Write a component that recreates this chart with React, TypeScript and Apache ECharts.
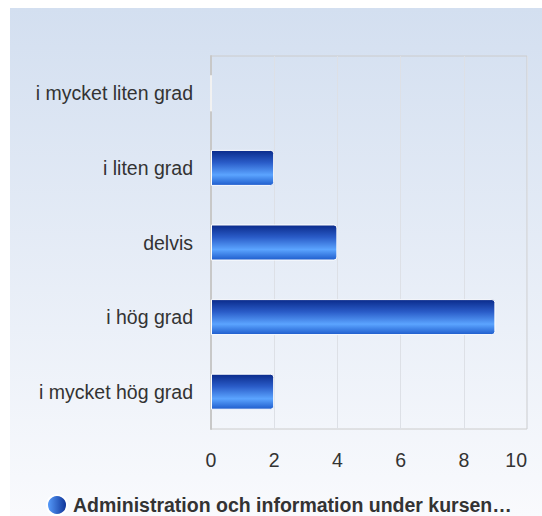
import React, { useEffect, useRef } from "react";
import * as echarts from "echarts";

const categories = ["i mycket liten grad", "i liten grad", "delvis", "i hög grad", "i mycket hög grad"];
const values = [0, 2, 4, 9, 2];
const seriesName = "Administration och information under kursen…";
const xTicks = [0, 2, 4, 6, 8, 10];

export default function App() {
  const ref = useRef<HTMLDivElement>(null);
  useEffect(() => {
    if (!ref.current) return;
    const chart = echarts.init(ref.current, undefined, { renderer: "svg" });
    const font = "'Liberation Sans', Arial, sans-serif";
    chart.setOption({
      animation: false,
      backgroundColor: new echarts.graphic.LinearGradient(0, 0, 0, 1, [
        { offset: 0, color: "#d3dff0" },
        { offset: 1, color: "#f9fafd" },
      ]),
      grid: { left: 201, top: 48, width: 316, height: 373, show: true, borderColor: "#cccccc", borderWidth: 1, backgroundColor: "transparent" },
      legend: {
        left: 36,
        top: 486,
        padding: 0,
        icon: "circle",
        itemWidth: 20,
        itemHeight: 20,
        itemGap: 6,
        textStyle: { fontFamily: font, fontSize: 19.5, fontWeight: "bold", color: "#333", padding: [0, 0, 0, 1] },
        data: [
          {
            name: seriesName,
            itemStyle: {
              color: new echarts.graphic.LinearGradient(0, 0, 1, 0, [
                { offset: 0, color: "#5aa0ff" },
                { offset: 1, color: "#0b2f94" },
              ]),
            },
          },
        ],
      },
      xAxis: {
        type: "value",
        min: 0,
        max: 10,
        interval: 2,
        axisLine: { show: false },
        axisTick: { show: false },
        axisLabel: {
          fontFamily: font,
          fontSize: 19.5,
          color: "#333",
          margin: 21,
          alignMaxLabel: "right",
          formatter: (v: number) => (xTicks.includes(v) ? String(v) : ""),
        },
        splitLine: { show: true, lineStyle: { color: "#dde0e6", width: 1 } },
      },
      yAxis: {
        type: "category",
        inverse: true,
        data: categories,
        axisLine: { show: true, lineStyle: { color: "#c8c8c8", width: 2 } },
        axisTick: { show: false },
        axisLabel: { fontFamily: font, fontSize: 19.5, color: "#333", margin: 18 },
        splitLine: { show: false },
      },
      series: [
        {
          name: seriesName,
          type: "bar",
          data: values,
          barWidth: 36,
          itemStyle: {
            borderColor: "#ffffff",
            borderWidth: 1,
            borderRadius: [0, 3, 3, 0],
            color: new echarts.graphic.LinearGradient(0, 0, 0, 1, [
              { offset: 0, color: "#0a2a8a" },
              { offset: 0.35, color: "#2a5cc8" },
              { offset: 0.7, color: "#5ba4ff" },
              { offset: 1, color: "#1e5ccc" },
            ]),
          },
        },
      ],
    });
    return () => chart.dispose();
  }, []);
  return <div ref={ref} style={{ position: "fixed", left: 10, top: 8, width: 532, height: 508 }} />;
}
